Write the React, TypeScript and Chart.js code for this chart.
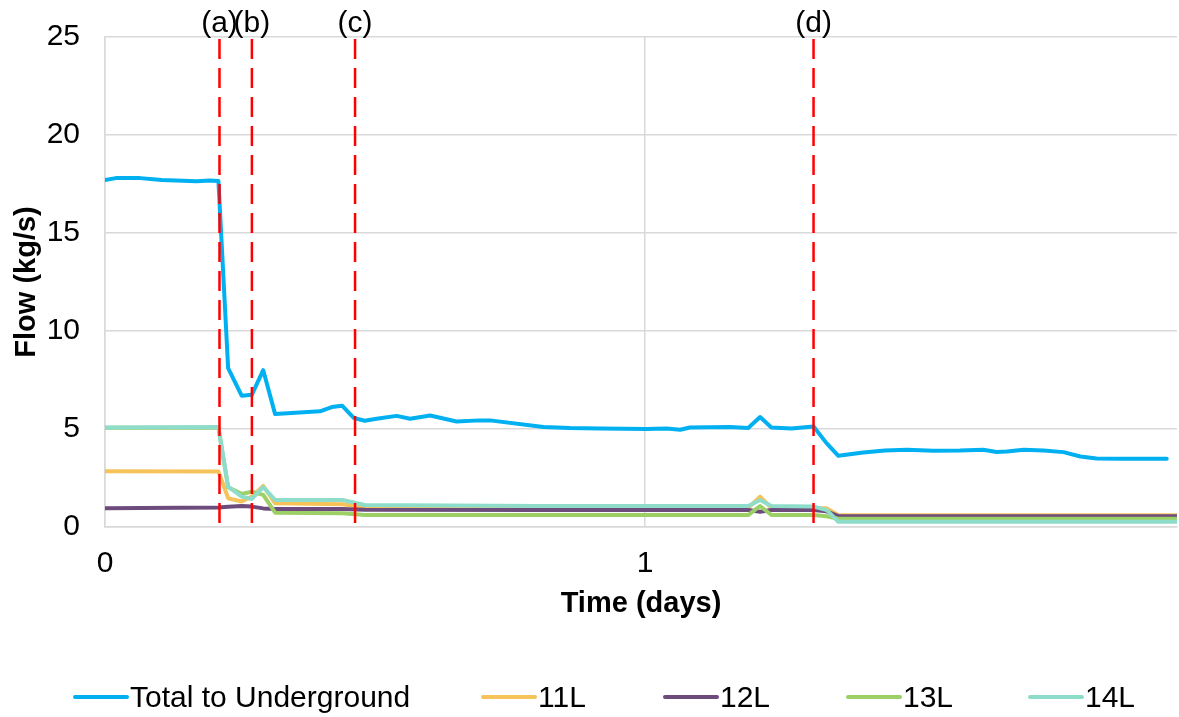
import React, { useEffect, useRef } from 'react';
import { Chart, registerables } from 'chart.js';

Chart.register(...registerables);

// Total flow to underground (time in days, flow in kg/s)
const totalTime = [
  0, 0.02, 0.065, 0.105, 0.17, 0.194, 0.21, 0.228, 0.253, 0.272, 0.293, 0.315,
  0.398, 0.42, 0.439, 0.461, 0.481, 0.503, 0.54, 0.565, 0.602, 0.651, 0.694,
  0.713, 0.812, 0.861, 0.917, 1.003, 1.04, 1.065, 1.083, 1.157, 1.191, 1.213,
  1.234, 1.271, 1.312, 1.336, 1.358, 1.404, 1.444, 1.485, 1.534, 1.583, 1.626,
  1.651, 1.67, 1.701, 1.738, 1.775, 1.806, 1.836, 1.88, 1.966,
];
const totalFlow = [
  17.7, 17.8, 17.8, 17.7, 17.64, 17.68, 17.65, 8.1, 6.7, 6.75, 8.0, 5.76,
  5.9, 6.12, 6.19, 5.56, 5.42, 5.52, 5.67, 5.52, 5.69, 5.38, 5.44,
  5.44, 5.1, 5.05, 5.03, 5.0, 5.02, 4.96, 5.08, 5.1, 5.05, 5.61,
  5.08, 5.03, 5.13, 4.28, 3.63, 3.8, 3.9, 3.94, 3.89, 3.9, 3.94,
  3.83, 3.85, 3.94, 3.9, 3.82, 3.6, 3.49, 3.48, 3.48,
];

// Level flows share one time base
const levelTime = [
  0, 0.21, 0.228, 0.253, 0.272, 0.293, 0.315, 0.44, 0.481, 0.8, 1.0, 1.191,
  1.213, 1.234, 1.312, 1.336, 1.358, 1.985,
];
const flow11L = [
  2.85, 2.83, 1.47, 1.3, 1.55, 2.1, 1.21, 1.16, 1.0, 0.97, 0.97, 0.97,
  1.55, 0.97, 0.96, 0.96, 0.6, 0.6,
];
const flow12L = [
  0.96, 1.0, 1.03, 1.07, 1.04, 0.95, 0.92, 0.92, 0.88, 0.87, 0.87, 0.87,
  0.78, 0.87, 0.87, 0.8, 0.55, 0.55,
];
const flow13L = [
  5.06, 5.06, 2.03, 1.69, 1.8, 1.64, 0.73, 0.7, 0.61, 0.61, 0.61, 0.61,
  1.07, 0.61, 0.61, 0.55, 0.42, 0.42,
];
const flow14L = [
  5.08, 5.1, 2.06, 1.55, 1.43, 2.03, 1.38, 1.38, 1.12, 1.07, 1.07, 1.07,
  1.38, 1.07, 1.04, 0.87, 0.27, 0.27,
];

const seriesNames = ['Total to Underground', '11L', '12L', '13L', '14L'];
const seriesColors = ['#00B0F0', '#F6C35B', '#6D4C7D', '#9CD067', '#8EDDCB'];

// Event markers
const eventTimes = [0.212, 0.272, 0.463, 1.312];
const eventLabels = ['(a)', '(b)', '(c)', '(d)'];

const X_MAX = 1.985;
const FONT = '"Liberation Sans", Arial, sans-serif';

const toPoints = (xs: number[], ys: number[]) => xs.map((x, i) => ({ x, y: ys[i] }));

// Legend swatch positions along the bottom row
const legendSlots = [75, 483, 665, 848, 1030];

const eventPlugin = {
  id: 'eventMarkers',
  afterDatasetsDraw(chart: any) {
    const { ctx, chartArea, scales } = chart;
    ctx.save();
    eventTimes.forEach((t, i) => {
      const x = scales.x.getPixelForValue(t);
      ctx.strokeStyle = '#FF0000';
      ctx.lineWidth = 2.5;
      ctx.setLineDash([20, 9]);
      ctx.beginPath();
      ctx.moveTo(x, chartArea.top + 2);
      ctx.lineTo(x, chartArea.bottom + 1);
      ctx.stroke();
      ctx.setLineDash([]);
      ctx.fillStyle = '#000';
      ctx.font = `30px ${FONT}`;
      ctx.textAlign = 'center';
      ctx.textBaseline = 'alphabetic';
      ctx.fillText(eventLabels[i], x, 32);
    });
    ctx.restore();
  },
};

const legendPlugin = {
  id: 'bottomLegend',
  afterDraw(chart: any) {
    const { ctx } = chart;
    ctx.save();
    const y = 697;
    chart.data.datasets.forEach((ds: any, i: number) => {
      const x0 = legendSlots[i];
      ctx.strokeStyle = ds.borderColor;
      ctx.lineWidth = 4;
      ctx.lineCap = 'round';
      ctx.beginPath();
      ctx.moveTo(x0, y);
      ctx.lineTo(x0 + 52, y);
      ctx.stroke();
      ctx.fillStyle = '#000';
      ctx.font = `30px ${FONT}`;
      ctx.textAlign = 'left';
      ctx.textBaseline = 'alphabetic';
      ctx.fillText(ds.label, x0 + 55, 707);
    });
    ctx.restore();
  },
};

export default function App() {
  const canvasRef = useRef<HTMLCanvasElement | null>(null);

  useEffect(() => {
    if (!canvasRef.current) return;
    const seriesData = [
      toPoints(totalTime, totalFlow),
      toPoints(levelTime, flow11L),
      toPoints(levelTime, flow12L),
      toPoints(levelTime, flow13L),
      toPoints(levelTime, flow14L),
    ];
    // 14L drawn on top of the other level lines
    const drawOrder = [0, 4, 3, 2, 1];
    const chart = new Chart(canvasRef.current, {
      type: 'line',
      data: {
        datasets: seriesData.map((data, i) => ({
          label: seriesNames[i],
          data,
          borderColor: seriesColors[i],
          backgroundColor: seriesColors[i],
          borderWidth: 4,
          pointRadius: 0,
          tension: 0,
          fill: false,
          borderJoinStyle: 'round' as const,
          borderCapStyle: 'round' as const,
          order: drawOrder[i],
        })),
      },
      options: {
        animation: false,
        responsive: false,
        maintainAspectRatio: false,
        layout: { padding: { top: 37, right: 2, bottom: 92, left: 0 } },
        plugins: {
          legend: { display: false },
          tooltip: { enabled: false },
        },
        scales: {
          x: {
            type: 'linear',
            min: 0,
            max: X_MAX,
            ticks: {
              stepSize: 1,
              includeBounds: false,
              padding: 19,
              color: '#000',
              font: { size: 30, family: FONT },
            },
            grid: { color: '#D9D9D9', lineWidth: 1.5, drawTicks: false },
            border: { display: true, color: '#D9D9D9', width: 1.5 },
            title: {
              display: true,
              text: 'Time (days)',
              color: '#000',
              font: { size: 29, weight: 'bold', family: FONT },
              padding: { top: 4, bottom: 4 },
            },
            afterFit(scale: any) {
              scale.height = 98;
              scale.paddingLeft = 0;
              scale.paddingRight = 0;
            },
          },
          y: {
            min: 0,
            max: 25,
            ticks: {
              stepSize: 5,
              padding: 25,
              color: '#000',
              font: { size: 30, family: FONT },
            },
            grid: { color: '#D9D9D9', lineWidth: 1.5, drawTicks: false },
            border: { display: true, color: '#D9D9D9', width: 1.5 },
            title: {
              display: true,
              text: 'Flow (kg/s)',
              color: '#000',
              font: { size: 29, weight: 'bold', family: FONT },
              padding: { top: 10, bottom: 0 },
            },
            afterFit(scale: any) {
              scale.width = 105;
              scale.paddingTop = 0;
              scale.paddingBottom = 0;
            },
          },
        },
      },
      plugins: [eventPlugin, legendPlugin],
    });
    return () => chart.destroy();
  }, []);

  return (
    <div style={{ position: 'fixed', left: 0, top: 0, width: 1179, height: 717, background: '#fff' }}>
      <canvas ref={canvasRef} width={1179} height={717} style={{ width: 1179, height: 717 }} />
    </div>
  );
}
